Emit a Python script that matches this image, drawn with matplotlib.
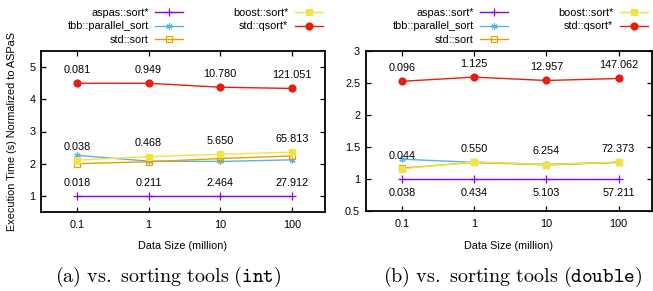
import matplotlib
matplotlib.use('Agg')
import matplotlib.pyplot as plt
import numpy as np

plt.rcParams['font.family'] = ['Liberation Sans', 'DejaVu Sans']
plt.rcParams['font.size'] = 7.8
plt.rcParams['mathtext.fontset'] = 'cm'

sizes = [0.1, 1, 10, 100]
size_labels = ['0.1', '1', '10', '100']
names = ['aspas::sort*', 'tbb::parallel_sort', 'std::sort', 'boost::sort*', 'std::qsort*']

# int: times in seconds for the labelled series, ratios for the rest
int_aspas_t = [0.018, 0.211, 2.464, 27.912]
int_boost_t = [0.038, 0.468, 5.650, 65.813]
int_qsort_t = [0.081, 0.949, 10.780, 121.051]
int_tbb = [2.26, 2.08, 2.07, 2.12]
int_stdsort = [2.00, 2.06, 2.16, 2.24]

# double
dbl_aspas_t = [0.038, 0.434, 5.103, 57.211]
dbl_boost_t = [0.044, 0.550, 6.254, 72.373]
dbl_qsort_t = [0.096, 1.125, 12.957, 147.062]
dbl_tbb = [1.31, 1.26, 1.23, 1.26]
dbl_stdsort = [1.17, 1.26, 1.22, 1.26]

colors = ['#9400d3', '#56b4e9', '#e69f00', '#f0e442', '#e51e10']
markers = ['+', (6, 2, 0), 's', 's', 'o']
msizes = [6, 4.5, 4.3, 4.8, 5]
fills = [True, True, False, True, True]

W, H = 653, 291
fig = plt.figure(figsize=(W / 100, H / 100), dpi=100)


def px_ax(l, t, r, b):
    return fig.add_axes([l / W, 1 - b / H, (r - l) / W, (b - t) / H])


def draw(ax, aspas_t, boost_t, qsort_t, tbb, stdsort, aspas_below):
    a = np.array(aspas_t)
    series = [np.ones(4), np.array(tbb), np.array(stdsort),
              np.array(boost_t) / a, np.array(qsort_t) / a]
    lines = []
    for i, ys in enumerate(series):
        ln, = ax.plot(sizes, ys, color=colors[i], marker=markers[i],
                      ms=msizes[i], lw=1.0, mew=0.9,
                      mfc=colors[i] if fills[i] else 'none',
                      label=names[i])
        lines.append(ln)
    for x, y, t in zip(sizes, series[4], qsort_t):
        ax.annotate('%.3f' % t, (x, y), xytext=(0, 9.5), textcoords='offset points',
                    ha='center', va='center')
    for x, y, t in zip(sizes, series[3], boost_t):
        ax.annotate('%.3f' % t, (x, y), xytext=(0, 9.5), textcoords='offset points',
                    ha='center', va='center')
    off = -10 if aspas_below else 9.5
    for x, t in zip(sizes, aspas_t):
        ax.annotate('%.3f' % t, (x, 1), xytext=(0, off), textcoords='offset points',
                    ha='center', va='center')
    ax.set_xscale('log')
    ax.set_xlim(10 ** -1.5, 10 ** 2.462)
    ax.set_xticks(sizes)
    ax.set_xticklabels(size_labels)
    ax.minorticks_off()
    for s in ax.spines.values():
        s.set_linewidth(1.3)
    ax.tick_params(direction='in', length=3.6, width=0.9, top=True, right=True)
    ax.tick_params(axis='x', pad=6)
    ax.tick_params(axis='y', pad=4)
    return lines


ax1 = px_ax(41, 51, 325, 212)
lines = draw(ax1, int_aspas_t, int_boost_t, int_qsort_t, int_tbb, int_stdsort, False)
ax1.set_ylim(0.5, 5.5)
ax1.set_yticks([1, 2, 3, 4, 5])

ax2 = px_ax(365.7, 51, 652, 211)
draw(ax2, dbl_aspas_t, dbl_boost_t, dbl_qsort_t, dbl_tbb, dbl_stdsort, True)
ax2.set_ylim(0.5, 3)
ax2.set_yticks([0.5, 1, 1.5, 2, 2.5, 3])
ax2.set_yticklabels(['0.5', '1', '1.5', '2', '2.5', '3'])

for rx in (323, 648):
    fig.legend(lines, names, ncol=2, loc='upper right',
               bbox_to_anchor=(rx / W, 1 - 8 / H), bbox_transform=fig.transFigure,
               frameon=False, markerfirst=False, borderpad=0, borderaxespad=0,
               handlelength=2.6, handletextpad=0.6, columnspacing=4.6,
               labelspacing=0.32, fontsize=7.8)

fig.text(12 / W, 1 - 131.5 / H, 'Execution Time (s) Normalized to ASPaS',
         rotation=90, ha='center', va='center')
fig.text(183 / W, 1 - 246 / H, 'Data Size (million)', ha='center', va='center')
fig.text(509 / W, 1 - 246 / H, 'Data Size (million)', ha='center', va='center')

fig.text(168 / W, 1 - 276.5 / H,
         r'$\mathrm{(a)\ vs.\ sorting\ tools\ (}\mathtt{int}\mathrm{)}$',
         ha='center', va='center', fontsize=14.5)
fig.text(513 / W, 1 - 276.5 / H,
         r'$\mathrm{(b)\ vs.\ sorting\ tools\ (}\mathtt{double}\mathrm{)}$',
         ha='center', va='center', fontsize=14.5)

fig.savefig('out.png', dpi=100)
